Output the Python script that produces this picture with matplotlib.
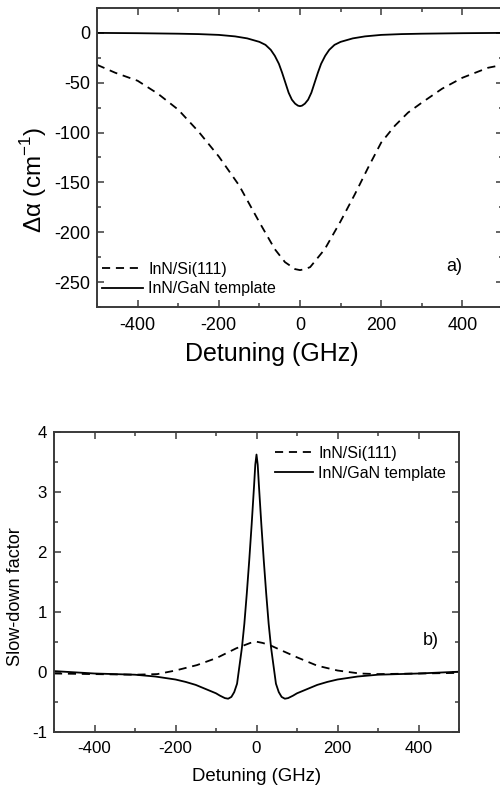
import matplotlib
matplotlib.use("Agg")
import matplotlib.pyplot as plt
from matplotlib.ticker import MultipleLocator

plt.rcParams['font.family'] = ['Liberation Sans', 'DejaVu Sans']
plt.rcParams['mathtext.fontset'] = 'custom'
plt.rcParams['mathtext.rm'] = 'Liberation Sans'
plt.rcParams['axes.unicode_minus'] = False

# panel a) absorption change
si_a_x = [-500, -455, -400, -350, -300, -250, -200, -150, -100, -62, -37, -12, 0,
          12, 25, 61, 100, 135, 168, 200, 234, 266, 300, 350, 400, 463, 500]
si_a_y = [-32, -40, -48, -61, -77, -99, -124, -153, -190, -217, -230, -237, -238,
          -237, -235, -217, -189, -162, -135, -110, -93, -80, -70, -56, -45, -35, -32]
gan_a_x = [-500, -400, -300, -250, -200, -160, -130, -100, -85, -72, -62, -52, -44, -36,
           -28, -20, -12, -5, 0, 5, 12, 20, 28, 36, 44, 52, 62, 72, 85, 100, 130, 160,
           200, 250, 300, 400, 500]
gan_a_y = [0, -0.3, -0.8, -1.2, -2, -3.5, -5.5, -9, -12, -17, -23, -31, -40, -50,
           -60, -67, -71, -73, -73.5, -73, -71, -67, -60, -50, -40, -31, -23, -17, -12, -9,
           -5.5, -3.5, -2, -1.2, -0.8, -0.3, 0]

# panel b) slow-down factor
gan_b_x = [-500, -400, -300, -250, -200, -175, -150, -125, -100, -90, -78, -70, -62, -55,
           -48, -44, -36, -30, -24, -18, -12, -6, -3, 0, 3, 6, 12, 18, 24, 30, 36, 44,
           48, 55, 62, 70, 78, 90, 100, 125, 150, 175, 200, 250, 300, 400, 500]
gan_b_y = [0.01, -0.03, -0.05, -0.08, -0.13, -0.17, -0.22, -0.29, -0.36, -0.40, -0.44,
           -0.45, -0.42, -0.34, -0.2, 0.0, 0.4, 0.8, 1.3, 1.85, 2.45, 3.1, 3.45, 3.62,
           3.45, 3.1, 2.45, 1.85, 1.3, 0.8, 0.4, 0.0, -0.2, -0.34, -0.42, -0.45, -0.44,
           -0.40, -0.36, -0.29, -0.22, -0.17, -0.13, -0.08, -0.05, -0.03, 0.0]
si_b_x = [-500, -400, -300, -245, -200, -147, -98, -50, -15, 0,
          15, 34, 60, 100, 150, 200, 255, 300, 400, 500]
si_b_y = [-0.03, -0.04, -0.05, -0.04, 0.02, 0.11, 0.23, 0.39, 0.48, 0.5,
          0.48, 0.44, 0.36, 0.24, 0.1, 0.02, -0.03, -0.04, -0.03, -0.02]

labels = ['InN/Si(111)', 'InN/GaN template']

fig = plt.figure(figsize=(5.0, 7.9), dpi=100)
ax1 = fig.add_axes([0.194, 0.6114, 0.812, 0.3785])
ax2 = fig.add_axes([0.108, 0.0738, 0.81, 0.3797])

edge = '#3a3a3a'
for ax in (ax1, ax2):
    for s in ax.spines.values():
        s.set_linewidth(1.4)
        s.set_color(edge)
    ax.tick_params(which='both', direction='in', top=True, right=True, color=edge, width=1.1)
    ax.tick_params(which='major', length=5)
    ax.tick_params(which='minor', length=3)
    ax.set_xlim(-500, 500)
    ax.xaxis.set_major_locator(MultipleLocator(200))
    ax.xaxis.set_minor_locator(MultipleLocator(100))
    ax.tick_params(axis='x', pad=7)
    ax.tick_params(axis='y', pad=5)

ax1.plot(si_a_x, si_a_y, 'k--', lw=1.3, dashes=(4.5, 3.2), label=labels[0])
ax1.plot(gan_a_x, gan_a_y, 'k-', lw=1.3, label=labels[1])
ax1.set_ylim(-275, 25)
ax1.yaxis.set_major_locator(MultipleLocator(50))
ax1.yaxis.set_minor_locator(MultipleLocator(25))
ax1.tick_params(labelsize=13)
ax1.set_xlabel('Detuning (GHz)', fontsize=18)
ax1.xaxis.set_label_coords(0.43, -0.118)
ax1.set_ylabel('Δα (cm$^{-1}$)', fontsize=17.5)
ax1.yaxis.set_label_coords(-0.118, 0.425)
ax1.legend(loc='upper left', bbox_to_anchor=(0.012, 0.152), frameon=False, fontsize=11.5,
           handlelength=2.6, handletextpad=0.3, labelspacing=0.3, borderpad=0, borderaxespad=0)
ax1.text(0.88, 0.135, 'a)', transform=ax1.transAxes, fontsize=13, ha='center', va='center')

ax2.plot(si_b_x, si_b_y, 'k--', lw=1.3, dashes=(4.5, 3.2), label=labels[0])
ax2.plot(gan_b_x, gan_b_y, 'k-', lw=1.3, label=labels[1])
ax2.set_ylim(-1, 4)
ax2.yaxis.set_major_locator(MultipleLocator(1))
ax2.yaxis.set_minor_locator(MultipleLocator(0.5))
ax2.tick_params(labelsize=12.2)
ax2.set_xlabel('Detuning (GHz)', fontsize=13.4)
ax2.xaxis.set_label_coords(0.5, -0.121)
ax2.set_ylabel('Slow-down factor', fontsize=13.1)
ax2.yaxis.set_label_coords(-0.074, 0.449)
ax2.legend(loc='upper left', bbox_to_anchor=(0.546, 0.953), frameon=False, fontsize=11.5,
           handlelength=2.4, handletextpad=0.3, labelspacing=0.3, borderpad=0, borderaxespad=0)
ax2.text(0.93, 0.305, 'b)', transform=ax2.transAxes, fontsize=13, ha='center', va='center')

fig.savefig('out.png', dpi=100)
